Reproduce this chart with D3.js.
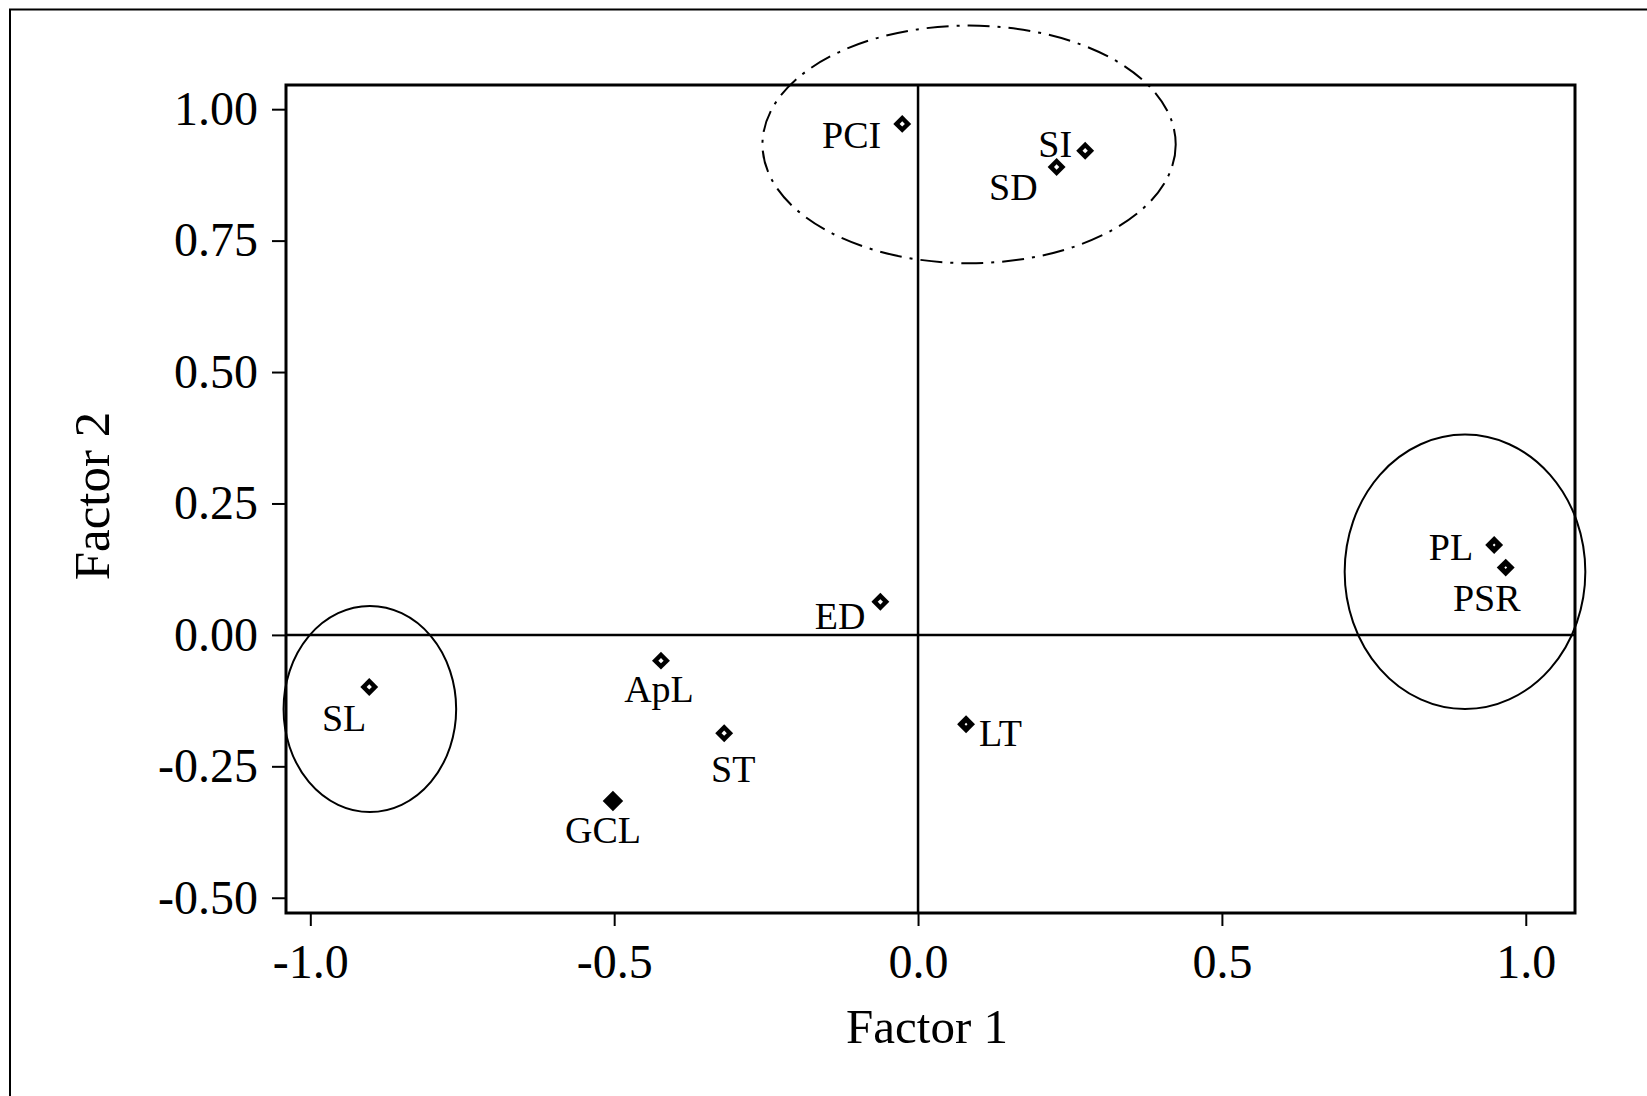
<!DOCTYPE html>
<html>
<head>
<meta charset="utf-8">
<script src="https://cdn.jsdelivr.net/npm/d3@7"></script>
<style>
  html, body { margin: 0; padding: 0; background: #fff; }
  svg { display: block; }
  text { font-family: "Liberation Serif", "Times New Roman", serif; fill: #000; }
</style>
</head>
<body>
<script>
// variables in the factor analysis
const names = ['PCI', 'SI', 'SD', 'ED', 'SL', 'ApL', 'ST', 'GCL', 'LT', 'PL', 'PSR'];
const factor1 = [-0.026, 0.275, 0.228, -0.062, -0.903, -0.423, -0.319, -0.502, 0.079, 0.948, 0.967];
const factor2 = [0.972, 0.921, 0.890, 0.063, -0.099, -0.049, -0.187, -0.316, -0.170, 0.171, 0.128];
// marker kind: hollow / near-solid / solid
const kinds = ['open', 'open', 'open', 'open', 'open', 'open', 'open', 'solid', 'dot', 'dot', 'dot'];

const xTicks = [-1.0, -0.5, 0.0, 0.5, 1.0];
const yTicks = [-0.50, -0.25, 0.00, 0.25, 0.50, 0.75, 1.00];

// grouping ellipses (centre and radii in factor units)
const groupCx = [-0.902, 0.900, 0.084];
const groupCy = [-0.141, 0.120, 0.933];
const groupRx = [0.142, 0.198, 0.340];
const groupRy = [0.196, 0.261, 0.226];
const groupDash = [null, null, '22,8,3,8'];

// label placement relative to each marker (px)
const labelPos = {
  PCI: ['end', -21, 24],
  SI: ['end', -13, 6],
  SD: ['end', -19, 33],
  ED: ['end', -15, 27],
  SL: ['end', -3, 44],
  ApL: ['middle', -2, 41],
  ST: ['middle', 9, 49],
  GCL: ['middle', -10, 42],
  LT: ['start', 13, 22],
  PL: ['end', -21, 15],
  PSR: ['middle', -19, 43]
};

const width = 1647, height = 1096;
const margin = { top: 85, right: 72, bottom: 183, left: 286 };

const svg = d3.select('body').append('svg')
  .attr('width', width)
  .attr('height', height);

// scanned page border (only top and left show)
svg.append('path')
  .attr('d', `M10,${height} V9.5 H${width}`)
  .attr('fill', 'none')
  .attr('stroke', '#000')
  .attr('stroke-width', 2);

const x = d3.scaleLinear()
  .domain([-1.04, 1.081])
  .range([margin.left, width - margin.right]);

const y = d3.scaleLinear()
  .domain([-0.529, 1.046])
  .range([height - margin.bottom, margin.top]);

const fmt = (digits) => (d) => d.toFixed(digits);

const gx = svg.append('g')
  .attr('transform', `translate(0,${height - margin.bottom})`)
  .call(d3.axisBottom(x).tickValues(xTicks).tickFormat(fmt(1)).tickSize(13).tickPadding(18));

const gy = svg.append('g')
  .attr('transform', `translate(${margin.left},0)`)
  .call(d3.axisLeft(y).tickValues(yTicks).tickFormat(fmt(2)).tickSize(14).tickPadding(14));

[gx, gy].forEach((g) => {
  g.select('.domain').remove();
  g.selectAll('.tick line').attr('stroke', '#000').attr('stroke-width', 2);
  g.selectAll('.tick text')
    .attr('font-size', 48)
    .attr('font-family', '"Liberation Serif", "Times New Roman", serif')
    .attr('fill', '#000');
});

// zero reference lines
svg.append('line')
  .attr('x1', x.range()[0]).attr('x2', x.range()[1])
  .attr('y1', y(0)).attr('y2', y(0))
  .attr('stroke', '#000').attr('stroke-width', 2.5);

svg.append('line')
  .attr('x1', x(0)).attr('x2', x(0))
  .attr('y1', y.range()[0]).attr('y2', y.range()[1])
  .attr('stroke', '#000').attr('stroke-width', 2.5);

// plot frame
svg.append('rect')
  .attr('x', x.range()[0])
  .attr('y', y.range()[1])
  .attr('width', x.range()[1] - x.range()[0])
  .attr('height', y.range()[0] - y.range()[1])
  .attr('fill', 'none')
  .attr('stroke', '#000')
  .attr('stroke-width', 3);

// group ellipses
svg.append('g').selectAll('ellipse')
  .data(groupCx)
  .join('ellipse')
  .attr('cx', (d) => x(d))
  .attr('cy', (d, i) => y(groupCy[i]))
  .attr('rx', (d, i) => x(groupRx[i]) - x(0))
  .attr('ry', (d, i) => y(0) - y(groupRy[i]))
  .attr('fill', 'none')
  .attr('stroke', '#000')
  .attr('stroke-width', 2)
  .attr('stroke-dasharray', (d, i) => groupDash[i]);

const points = names.map((name, i) => ({
  name, fx: factor1[i], fy: factor2[i], kind: kinds[i]
}));

const outer = d3.symbol().type(d3.symbolSquare);

const pg = svg.append('g').selectAll('g')
  .data(points)
  .join('g')
  .attr('transform', (d) => `translate(${x(d.fx)},${y(d.fy)})`);

pg.append('path')
  .attr('d', (d) => outer.size(d.kind === 'solid' ? 210 : 160)())
  .attr('transform', 'rotate(45)')
  .attr('fill', '#000');

pg.filter((d) => d.kind !== 'solid')
  .append('path')
  .attr('d', (d) => outer.size(d.kind === 'open' ? 14 : 4)())
  .attr('transform', 'rotate(45)')
  .attr('fill', '#fff');

pg.append('text')
  .attr('font-size', 38)
  .attr('text-anchor', (d) => labelPos[d.name][0])
  .attr('x', (d) => labelPos[d.name][1])
  .attr('y', (d) => labelPos[d.name][2])
  .text((d) => d.name);

// axis titles
svg.append('text')
  .attr('x', 927)
  .attr('y', 1043)
  .attr('text-anchor', 'middle')
  .attr('font-size', 49)
  .text('Factor 1');

svg.append('text')
  .attr('transform', 'translate(109,496) rotate(-90)')
  .attr('text-anchor', 'middle')
  .attr('font-size', 51)
  .text('Factor 2');
</script>
</body>
</html>
